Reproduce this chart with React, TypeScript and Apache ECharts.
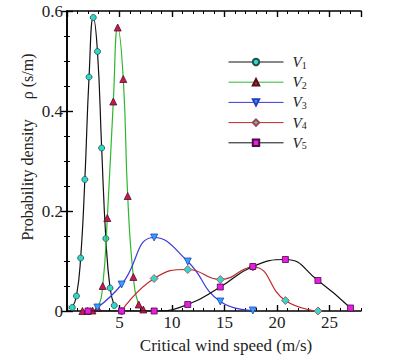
import React, { useEffect, useRef } from "react";
import * as echarts from "echarts";

// ---- data ----
const seriesNames = ["V1", "V2", "V3", "V4", "V5"];
const v1X = [0.5, 0.9, 1.3, 1.7, 2.1, 2.5, 2.9, 3.3, 3.7, 4.1, 4.5];
const v1Y = [0.007, 0.03, 0.106, 0.263, 0.468, 0.587, 0.519, 0.326, 0.145, 0.046, 0.011];
const v2X = [1.47, 1.95, 2.43, 2.92, 3.4, 3.84, 4.41, 4.83, 5.36, 5.78, 6.32, 6.83, 7.27];
const v2Y = [0, 0, 0.001, 0.006, 0.05, 0.186, 0.419, 0.567, 0.464, 0.23, 0.068, 0.013, 0.003];
const v3X = [2.9, 5.2, 8.3, 11.5, 14.6, 17.7];
const v3Y = [0.007, 0.053, 0.147, 0.099, 0.019, 0.001];
const v4X = [5.2, 8.3, 11.5, 14.6, 17.7, 20.8, 23.9];
const v4Y = [0, 0.065, 0.083, 0.063, 0.088, 0.021, 0.0];
const v5X = [2.0, 5.2, 8.3, 11.5, 14.6, 17.7, 20.8, 23.9, 27.0];
const v5Y = [0, 0, 0, 0.013, 0.048, 0.089, 0.103, 0.061, 0.006];

const xTickLabels = ["5", "10", "15", "20", "25"];
const yTickLabels = ["0", "0.2", "0.4", "0.6"];
const xName = "Critical wind speed (m/s)";
const yName = "Probability density     \u03c1 (s/m)";

const SERIF = "'Liberation Serif', 'DejaVu Serif', serif";

const styles = [
  { line: "#111111", fill: "#2fd8c8", border: "#1d4f4f", symbol: "circle", rotate: 0, size: 6 },
  { line: "#2cb82c", fill: "#c4185a", border: "#55101f", symbol: "triangle", rotate: 0, size: 7 },
  { line: "#3b3bdc", fill: "#2aa8f5", border: "#2a3ac0", symbol: "triangle", rotate: 180, size: 7 },
  { line: "#c0262a", fill: "#38d6c6", border: "#a84050", symbol: "diamond", rotate: 0, size: 8 },
  { line: "#111111", fill: "#e61ee0", border: "#4a0a4a", symbol: "rect", rotate: 0, size: 6 },
];

const xs = [v1X, v2X, v3X, v4X, v5X];
const ys = [v1Y, v2Y, v3Y, v4Y, v5Y];

export default function App() {
  const ref = useRef<HTMLDivElement>(null);
  useEffect(() => {
    if (!ref.current) return;
    const chart = echarts.init(ref.current, null, { renderer: "svg" });
    const axisLine = { show: true, lineStyle: { color: "#000", width: 1.6 } };
    const labelStyle = { fontFamily: SERIF, fontSize: 17, color: "#222" };
    const xCommon = { type: "value", min: 0, max: 28, splitLine: { show: false } };
    const yCommon = { type: "value", min: 0, max: 0.6, interval: 0.2, splitLine: { show: false } };
    const option: any = {
      animation: false,
      backgroundColor: "#fff",
      grid: { left: 67, right: 34, top: 11, bottom: 50, containLabel: false },
      xAxis: [
        {
          ...xCommon,
          position: "bottom",
          interval: 5,
          axisLine,
          axisTick: { show: true, inside: true, length: 6, lineStyle: { color: "#000", width: 1.4 } },
          axisLabel: {
            ...labelStyle,
            margin: 3,
            showMaxLabel: false,
            formatter: (v: number) => {
              const s = String(v);
              return xTickLabels.includes(s) ? s : "";
            },
          },
        },
        {
          ...xCommon,
          position: "bottom",
          interval: 1,
          axisLine: { show: false },
          axisTick: { show: true, inside: true, length: 3, lineStyle: { color: "#000", width: 1 } },
          axisLabel: { show: false },
        },
        {
          ...xCommon,
          position: "top",
          interval: 5,
          axisLine,
          axisTick: { show: true, inside: true, length: 6, lineStyle: { color: "#000", width: 1.4 } },
          axisLabel: { show: false },
        },
        {
          ...xCommon,
          position: "top",
          interval: 1,
          axisLine: { show: false },
          axisTick: { show: true, inside: true, length: 3, lineStyle: { color: "#000", width: 1 } },
          axisLabel: { show: false },
        },
      ],
      yAxis: [
        {
          ...yCommon,
          position: "left",
          axisLine,
          axisTick: { show: true, inside: true, length: 6, lineStyle: { color: "#000", width: 1.4 } },
          minorTick: { show: true, splitNumber: 4, length: 3, lineStyle: { color: "#000", width: 1 } },
          minorSplitLine: { show: false },
          axisLabel: {
            ...labelStyle,
            margin: 4,
            formatter: (v: number) => {
              const idx = Math.round(v / 0.2);
              return yTickLabels[idx] ?? "";
            },
          },
        },
        {
          ...yCommon,
          position: "right",
          axisLine,
          axisTick: { show: true, inside: true, length: 6, lineStyle: { color: "#000", width: 1.4 } },
          minorTick: { show: true, splitNumber: 4, length: 3, lineStyle: { color: "#000", width: 1 } },
          minorSplitLine: { show: false },
          axisLabel: { show: false },
        },
      ],
      legend: {
        orient: "vertical",
        left: 228,
        top: 53,
        padding: 0,
        itemWidth: 55,
        itemHeight: 8,
        itemGap: 3.2,
        data: seriesNames,
        lineStyle: { width: 1 },
        formatter: (name: string) => `{i|V}{s|${name.slice(1)}}`,
        textStyle: {
          rich: {
            i: { fontFamily: SERIF, fontStyle: "italic", fontSize: 15, color: "#222", lineHeight: 16, padding: [0, 0, 0, 4] },
            s: { fontFamily: SERIF, fontSize: 10, color: "#222", lineHeight: 16, verticalAlign: "bottom", padding: [7, 0, 0, 0] },
          },
        },
      },
      graphic: [
        {
          type: "text",
          x: 27,
          y: 147,
          rotation: Math.PI / 2,
          style: {
            text: yName,
            fontFamily: SERIF,
            fontSize: 16,
            fill: "#222",
            textAlign: "center",
            textVerticalAlign: "middle",
          },
        },
        {
          type: "text",
          x: 226,
          y: 345,
          style: {
            text: xName,
            fontFamily: SERIF,
            fontSize: 17,
            fill: "#222",
            textAlign: "center",
            textVerticalAlign: "middle",
          },
        },
      ],
      series: seriesNames.map((name, i) => ({
        name,
        type: "line",
        xAxisIndex: 0,
        yAxisIndex: 0,
        smooth: 0.5,
        symbol: styles[i].symbol,
        symbolRotate: styles[i].rotate,
        symbolSize: styles[i].size,
        showAllSymbol: true,
        lineStyle: { color: styles[i].line, width: 1.2 },
        itemStyle: { color: styles[i].fill, borderColor: styles[i].border, borderWidth: 0.8 },
        data: xs[i].map((x, k) => [x, ys[i][k]]),
        z: 2 + i,
      })),
    };
    chart.setOption(option);
    return () => chart.dispose();
  }, []);
  return <div ref={ref} style={{ width: 395, height: 361, position: "absolute", left: 0, top: 0 }} />;
}
